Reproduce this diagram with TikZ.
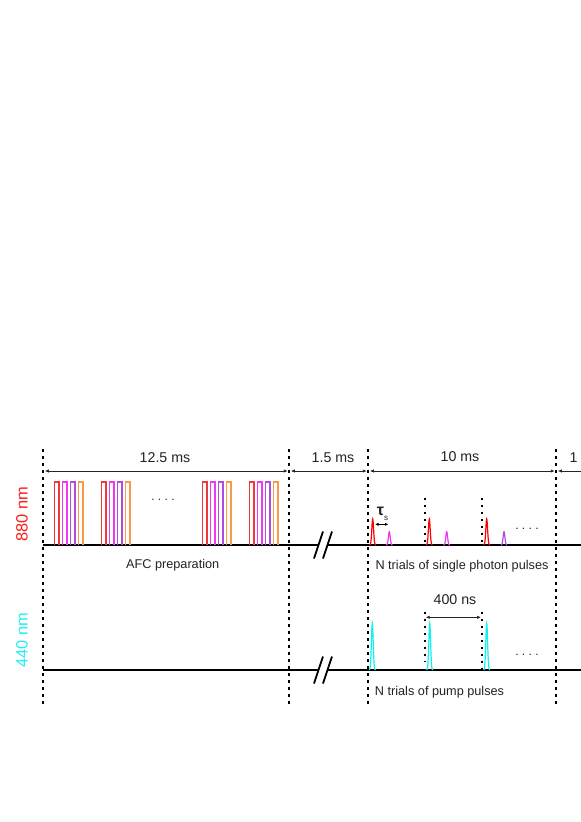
\documentclass[tikz,border=0pt]{standalone}
\usepackage{fontspec}
\setmainfont{Liberation Sans}
\usetikzlibrary{arrows.meta}
\definecolor{txt}{HTML}{222222}
\definecolor{pred}{HTML}{F03838}
\definecolor{pmag}{HTML}{F038F0}
\definecolor{ppur}{HTML}{B04CE0}
\definecolor{pora}{HTML}{F89A48}
\definecolor{lred}{HTML}{FF1A1A}
\definecolor{lcyan}{HTML}{22EEF8}
\definecolor{pcyan}{HTML}{10F0F0}
\begin{document}
\begin{tikzpicture}[x=1pt,y=-1pt,
  axisline/.style={line width=2pt,black},
  vdot/.style={line width=1.7pt,dash pattern=on 2.5pt off 4.5pt,black},
  dimarrow/.style={{Latex[length=4pt,width=3.4pt]}-{Latex[length=4pt,width=3.4pt]},line width=0.9pt,black!85},
  durlabel/.style={font=\fontsize{14.2}{16}\selectfont,text=txt,inner sep=0pt},
  desclabel/.style={font=\fontsize{12.7}{15}\selectfont,text=txt,inner sep=0pt},
  wavelabel/.style={font=\fontsize{16.4}{18}\selectfont,rotate=90,inner sep=0pt},
  afcbox/.style={line width=1.1pt},
  pulse/.style={line width=1.2pt},
  breakmark/.style={line width=1.8pt,black}]
\clip (0,0) rectangle (581,822);
\useasboundingbox (0,0) rectangle (581,822);

% coordinates on dotted lines
\coordinate (d0t) at (43.3,449);   \coordinate (d0b) at (43.3,706);
\coordinate (d1t) at (289.3,449);  \coordinate (d1b) at (289.3,706);
\coordinate (d2t) at (368.3,449);  \coordinate (d2b) at (368.3,706);
\coordinate (d3t) at (556.3,449);  \coordinate (d3b) at (556.3,706);

% dotted boundaries
\draw[vdot] (d0t) -- (d0b);
\draw[vdot] (d1t) -- (d1b);
\draw[vdot] (d2t) -- (d2b);
\draw[vdot] (d3t) -- (d3b);

% duration arrows
\coordinate (a0) at (43.3,471);
\coordinate (a1) at (289.3,471);
\coordinate (a2) at (368.3,471);
\coordinate (a3) at (556.3,471);
\coordinate (a4) at (600,471);
\draw[dimarrow,shorten <=1.5pt,shorten >=1.5pt] (a0) -- (a1);
\draw[dimarrow,shorten <=1.5pt,shorten >=1.5pt] (a1) -- (a2);
\draw[dimarrow,shorten <=1.5pt,shorten >=1.5pt] (a2) -- (a3);
\draw[dimarrow,shorten <=1.5pt] (a3) -- (a4);
\node[durlabel] (t125) at (165,458) {12.5 ms};
\node[durlabel] (t15) at (333,458) {1.5 ms};
\node[durlabel] (t10) at (460,457) {10 ms};
\node[durlabel,anchor=west] (t1) at (569.5,458) {1 ms};

% wavelength labels
\node[wavelabel,text=lred] (w880) at (22,514.5) {880 nm};
\node[wavelabel,text=lcyan] (w440) at (22,640) {440 nm};

% axes with break marks
\coordinate (ax1s) at (43,545); \coordinate (ax1b1) at (318.5,545);
\coordinate (ax1b2) at (327.5,545); \coordinate (ax1e) at (581,545);
\coordinate (ax2s) at (43,670); \coordinate (ax2b1) at (318.5,670);
\coordinate (ax2b2) at (327.5,670); \coordinate (ax2e) at (581,670);
\draw[axisline] (ax1s) -- (ax1b1);
\draw[axisline] (ax1b2) -- (ax1e);
\draw[axisline] (ax2s) -- (ax2b1);
\draw[axisline] (ax2b2) -- (ax2e);
\foreach \c in {ax1b1,ax1b2,ax2b1,ax2b2}{
  \draw[breakmark] ([shift={(-4.5,13.5)}]\c) -- ([shift={(4.5,-13.5)}]\c);
}

% AFC preparation pulses
\foreach \g in {54.3,101.3,202.3,249.3}{
  \foreach \k/\col in {0/pred,1/pmag,2/ppur,3/pora}{
    \draw[afcbox,color=\col] (\g+8*\k,545) -- (\g+8*\k,482) -- (\g+8*\k+4.7,482) -- (\g+8*\k+4.7,545);
  }
}
\node[font=\fontsize{12}{14}\selectfont,text=txt,inner sep=0pt] (dotsa) at (163,500) {.\ .\ .\ .};
\node[desclabel] (afc) at (172.7,565.5) {AFC preparation};

% single photon pulses
\foreach \cx in {372.7,429.3,486.7}{
  \draw[pulse,red] plot[domain=-3.2:3.2,samples=31] ({\cx+\x},{545-26*exp(-\x*\x/1.6)});
}
\draw[pulse,pmag] plot[domain=-3.2:3.2,samples=31] ({389.3+\x},{545-13.3*exp(-\x*\x/1.6)});
\draw[pulse,pmag] plot[domain=-3.2:3.2,samples=31] ({446.7+\x},{545-13.3*exp(-\x*\x/1.6)});
\draw[pulse,ppur] plot[domain=-3.2:3.2,samples=31] ({504+\x},{545-13.3*exp(-\x*\x/1.6)});
\coordinate (s1t) at (425,497.7); \coordinate (s1b) at (425,545);
\coordinate (s2t) at (482,497.7); \coordinate (s2b) at (482,545);
\draw[vdot] (s1t) -- (s1b);
\draw[vdot] (s2t) -- (s2b);
\coordinate (tau0) at (375,524.3); \coordinate (tau1) at (388.5,524.3);
\draw[{Latex[length=3.5pt,width=3.2pt]}-{Latex[length=3.5pt,width=3.2pt]},line width=1.1pt] (tau0) -- (tau1);
\node[inner sep=0pt,text=txt,font=\fontsize{16}{18}\selectfont\bfseries] (tau) at (382.5,514) {τ\raisebox{-0.6ex}{\fontsize{8}{9}\selectfont\mdseries s}};
\node[font=\fontsize{12}{14}\selectfont,text=txt,inner sep=0pt] (dotsb) at (527,529) {.\ .\ .\ .};
\node[desclabel] (single) at (462,566) {N trials of single photon pulses};

% pump pulses
\foreach \cx in {372.3,429.7,486.7}{
  \draw[pulse,pcyan] plot[domain=-3.2:3.2,samples=31] ({\cx+\x},{670-46.7*exp(-\x*\x/1.6)});
}
\coordinate (p1t) at (424.7,611.7); \coordinate (p1b) at (424.7,661.7);
\coordinate (p2t) at (482,611.7);   \coordinate (p2b) at (482,670);
\draw[vdot] (p1t) -- (p1b);
\draw[vdot] (p2t) -- (p2b);
\coordinate (n0) at (424.7,617.3); \coordinate (n1) at (482,617.3);
\draw[dimarrow,shorten <=1pt,shorten >=1pt] (n0) -- (n1);
\node[durlabel] (t400) at (455,600) {400 ns};
\node[font=\fontsize{12}{14}\selectfont,text=txt,inner sep=0pt] (dotsc) at (527,655) {.\ .\ .\ .};
\node[desclabel] (pump) at (439.5,692) {N trials of pump pulses};
\end{tikzpicture}
\end{document}
